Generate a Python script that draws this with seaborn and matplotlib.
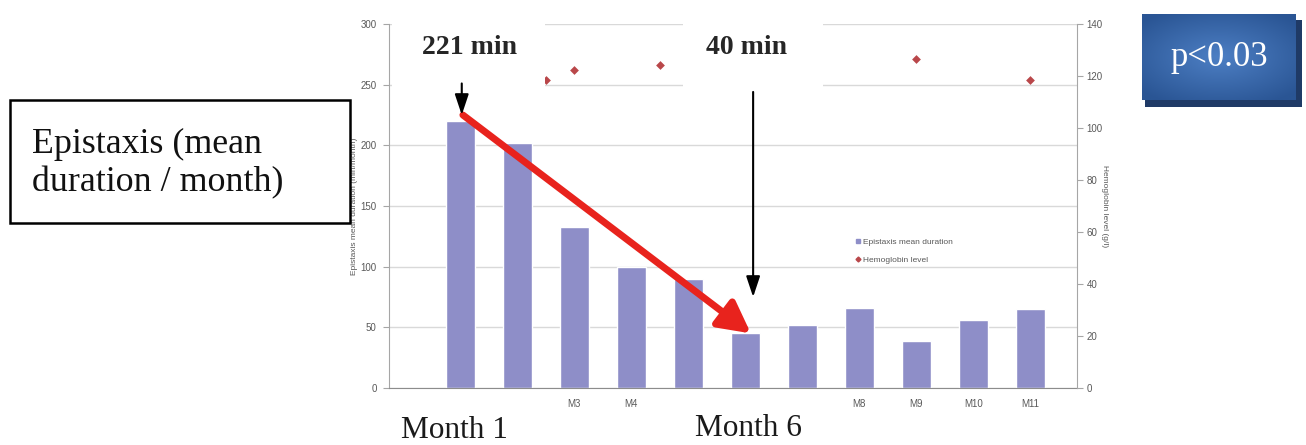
import numpy as np
import pandas as pd
import matplotlib
matplotlib.use("Agg")
import matplotlib.pyplot as plt
import seaborn as sns
from matplotlib.patches import Rectangle
from matplotlib.lines import Line2D

# ---------------- data ----------------
months = ["M1", "M2", "M3", "M4", "M5", "M6", "M7", "M8", "M9", "M10", "M11"]
duration = [220, 202, 133, 100, 90, 45, 52, 66, 39, 56, 65]
tick_labels = ["", "", "M3", "M4", "", "", "", "M8", "M9", "M10", "M11"]
hemo_month = [2.5, 3, 4.5, 9, 11]
hemo_level = [118.5, 122.3, 124.2, 126.5, 118.5]
left_ticks = [0, 50, 100, 150, 200, 250, 300]
right_ticks = [0, 20, 40, 60, 80, 100, 120, 140]

bar_color = "#8E8EC8"
hemo_color = "#B9474A"
red_arrow = "#E8231D"
axis_gray = "#A6A6A6"
tick_text = "#595959"

sns.set_style("white")
plt.rcParams["font.family"] = ["Liberation Sans", "DejaVu Sans"]

W, H = 1306, 445
fig = plt.figure(figsize=(W / 100, H / 100), dpi=100)


def fx(px):
    return px / W


def fy(py):
    return 1 - py / H


ax = fig.add_axes([fx(389), fy(388), fx(1077) - fx(389), fy(24) - fy(388)])
df = pd.DataFrame({"month": months, "duration": duration})
sns.barplot(data=df, x="month", y="duration", color=bar_color, saturation=1,
            width=0.51, ax=ax, zorder=2)
ax.set_xlim(-1.246, 10.82)
ax.set_ylim(0, 300)
ax.set_yticks(left_ticks)
ax.set_xticks(range(len(months)))
ax.set_xticklabels(tick_labels)
ax.grid(axis="y", color="#D9D9D9", lw=1, zorder=0)
ax.set_axisbelow(True)
ax.set_xlabel("")
ax.set_ylabel("Epistaxis mean duration (min/month)", fontsize=6, color=tick_text, labelpad=2)
ax.tick_params(axis="y", direction="out", length=4, width=0.8, color=axis_gray,
               labelsize=7, labelcolor=tick_text, pad=5, left=True)
ax.tick_params(axis="x", length=0, labelsize=7, labelcolor=tick_text, pad=8)
ax.spines["top"].set_visible(False)
ax.spines["left"].set_color(axis_gray)
ax.spines["bottom"].set_color("#8C8C8C")
ax.spines["right"].set_visible(False)

ax2 = ax.twinx()
ax2.set_ylim(0, 140)
ax2.set_yticks(right_ticks)
ax2.tick_params(axis="y", direction="out", length=4, width=0.8, color=axis_gray,
                labelsize=7, labelcolor=tick_text, pad=3, right=True)
ax2.set_ylabel("Hemoglobin level (g/l)", fontsize=6, color=tick_text, rotation=270, labelpad=4)
for s in ["top", "left", "bottom"]:
    ax2.spines[s].set_visible(False)
ax2.spines["right"].set_color(axis_gray)
ax2.scatter(np.array(hemo_month) - 1, hemo_level, marker="D", s=20,
            color=hemo_color, zorder=2, linewidths=0)

# white cover boxes (as in the slide)
for (x0, y0, x1, y1) in [(392, 5, 545, 97), (683, 5, 823, 97)]:
    ax2.add_patch(Rectangle((fx(x0), fy(y1)), fx(x1) - fx(x0), fy(y0) - fy(y1),
                            transform=fig.transFigure, facecolor="white",
                            edgecolor="none", zorder=3, clip_on=False))

# legend
handles = [Line2D([], [], marker="s", ls="none", color=bar_color, markersize=3),
           Line2D([], [], marker="D", ls="none", color=hemo_color, markersize=2.5)]
leg = ax2.legend(handles, ["Epistaxis mean duration", "Hemoglobin level"],
                 loc="upper left", bbox_to_anchor=(fx(851), fy(234)),
                 bbox_transform=fig.transFigure, frameon=False, fontsize=6,
                 handlelength=0.6, handletextpad=0.3, labelspacing=1.25, borderpad=0)
for t in leg.get_texts():
    t.set_color(tick_text)

# red trend arrow from first bar to sixth bar
ax2.annotate("", xy=(5.1, duration[5]), xytext=(0.05, duration[0] + 5),
             xycoords=ax.transData, textcoords=ax.transData,
             arrowprops=dict(arrowstyle="-|>,head_width=0.5,head_length=0.95",
                             mutation_scale=20, lw=5, color=red_arrow,
                             shrinkA=0, shrinkB=0),
             zorder=6, annotation_clip=False)
# black arrows
ax2.annotate("", xy=(0.03, duration[0] + 5), xytext=(0.03, 251),
             xycoords=ax.transData, textcoords=ax.transData,
             arrowprops=dict(arrowstyle="-|>,head_width=0.3,head_length=0.9",
                             mutation_scale=14, lw=1.5, color="black",
                             shrinkA=0, shrinkB=0),
             zorder=7, annotation_clip=False)
ax2.annotate("", xy=(5.14, 75), xytext=(5.14, 244),
             xycoords=ax.transData, textcoords=ax.transData,
             arrowprops=dict(arrowstyle="-|>,head_width=0.3,head_length=0.9",
                             mutation_scale=14, lw=1.5, color="black",
                             shrinkA=0, shrinkB=0),
             zorder=7, annotation_clip=False)

serif = ["Liberation Serif", "DejaVu Serif"]
fig.text(fx(469), fy(48), "221 min", fontsize=20, fontweight="bold", family=serif,
         ha="center", va="center", zorder=10)
fig.text(fx(746), fy(48), "40 min", fontsize=20, fontweight="bold", family=serif,
         ha="center", va="center", zorder=10)
fig.text(fx(454), fy(430), "Month 1", fontsize=22.5, family=serif,
         ha="center", va="center", color="#1a1a1a")
fig.text(fx(748), fy(428), "Month 6", fontsize=22.5, family=serif,
         ha="center", va="center", color="#1a1a1a")

# left title box
fig.patches.append(Rectangle((fx(10), fy(223)), fx(350) - fx(10), fy(100) - fy(223),
                             transform=fig.transFigure, facecolor="white",
                             edgecolor="black", lw=1.8, zorder=5))
fig.text(fx(32), fy(164), "Epistaxis (mean\nduration / month)", fontsize=25.8,
         family=serif, ha="left", va="center", linespacing=1.2, zorder=6,
         color="#111111")

# p-value box with shadow and gradient
fig.patches.append(Rectangle((fx(1145), fy(107)), fx(1302) - fx(1145), fy(20) - fy(107),
                             transform=fig.transFigure, facecolor="#1F3A66",
                             edgecolor="none", zorder=5))
pax = fig.add_axes([fx(1142), fy(100), fx(1296) - fx(1142), fy(14) - fy(100)], zorder=6)
gx, gy = np.meshgrid(np.linspace(-1, 1, 200), np.linspace(-1, 1, 120))
r = np.clip(np.sqrt(gx ** 2 + (gy * 1.1) ** 2) / 1.35, 0, 1)
c_in = np.array([0x4D, 0x7F, 0xC4]) / 255
c_out = np.array([0x2A, 0x55, 0x94]) / 255
img = c_in[None, None, :] * (1 - r[..., None]) + c_out[None, None, :] * r[..., None]
pax.imshow(img, aspect="auto", extent=(0, 1, 0, 1))
pax.set_axis_off()
pax.text(0.5, 0.5, "p<0.03", color="white", fontsize=25, family=serif,
         ha="center", va="center", transform=pax.transAxes)

fig.savefig("out.png", dpi=100)
